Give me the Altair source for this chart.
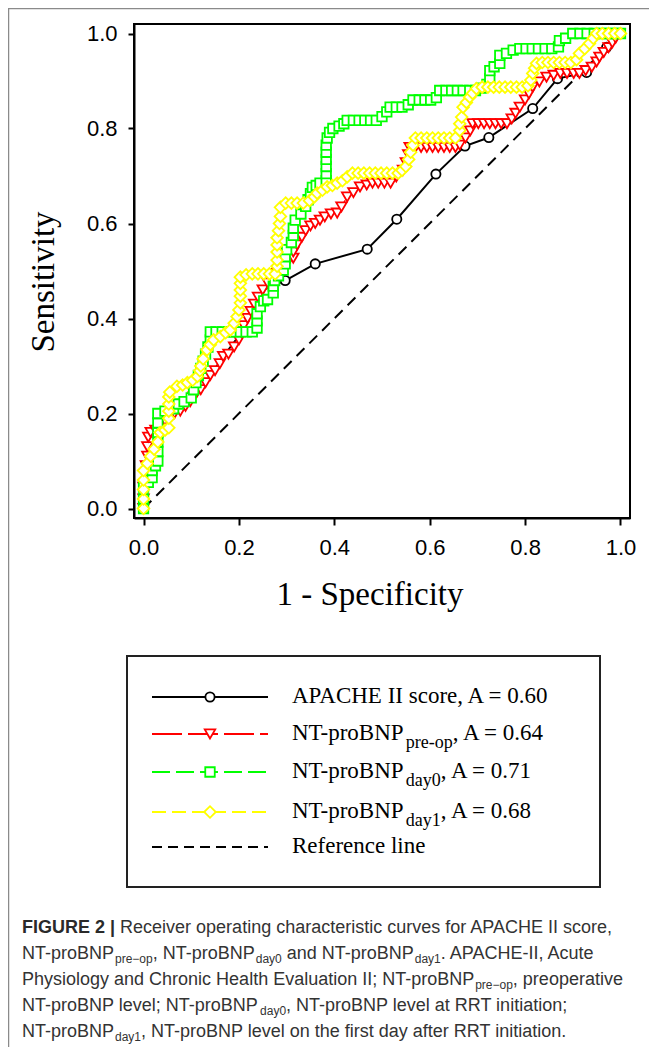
import altair as alt
import pandas as pd

# ---------------- data ----------------
tick_values = [0.0, 0.2, 0.4, 0.6, 0.8, 1.0]

apache_points = [(0.0, 0.0), (0.01, 0.15), (0.065, 0.2), (0.12, 0.25), (0.167, 0.32), (0.205, 0.37),
                 (0.25, 0.46), (0.297, 0.48), (0.36, 0.515), (0.469, 0.546), (0.531, 0.609), (0.613, 0.704),
                 (0.674, 0.763), (0.724, 0.781), (0.816, 0.842), (0.868, 0.905), (0.929, 0.918),
                 (0.971, 0.971), (1.0, 1.0)]

preop_points = [(0.0, 0.0), (0.0, 0.02), (0.0, 0.045), (0.003, 0.07), (0.005, 0.09), (0.008, 0.11), (0.008, 0.13),
                (0.01, 0.15), (0.015, 0.16), (0.025, 0.165), (0.035, 0.175), (0.045, 0.185), (0.055, 0.195),
                (0.065, 0.2), (0.077, 0.205), (0.088, 0.215), (0.098, 0.225), (0.105, 0.235), (0.112, 0.245),
                (0.12, 0.25), (0.13, 0.265), (0.14, 0.28), (0.15, 0.29), (0.16, 0.305), (0.167, 0.32),
                (0.178, 0.325), (0.19, 0.34), (0.2, 0.355), (0.205, 0.37), (0.21, 0.385), (0.218, 0.4),
                (0.225, 0.415), (0.232, 0.43), (0.24, 0.445), (0.25, 0.46), (0.26, 0.475), (0.27, 0.485),
                (0.28, 0.495), (0.29, 0.505), (0.3, 0.515), (0.314, 0.527), (0.314, 0.54), (0.322, 0.555),
                (0.332, 0.571), (0.34, 0.585), (0.35, 0.595), (0.36, 0.6), (0.37, 0.607), (0.38, 0.614),
                (0.393, 0.62), (0.406, 0.622), (0.415, 0.635), (0.427, 0.656), (0.44, 0.665), (0.454, 0.677),
                (0.468, 0.681), (0.48, 0.685), (0.492, 0.685), (0.505, 0.685), (0.518, 0.685), (0.53, 0.698),
                (0.544, 0.712), (0.55, 0.728), (0.555, 0.745), (0.558, 0.76), (0.57, 0.76), (0.582, 0.76),
                (0.594, 0.76), (0.606, 0.76), (0.618, 0.76), (0.63, 0.76), (0.642, 0.76), (0.654, 0.76),
                (0.663, 0.765), (0.675, 0.78), (0.685, 0.795), (0.69, 0.81), (0.702, 0.81), (0.714, 0.81),
                (0.726, 0.81), (0.738, 0.81), (0.75, 0.81), (0.762, 0.81), (0.772, 0.82), (0.78, 0.832),
                (0.789, 0.845), (0.8, 0.86), (0.808, 0.873), (0.816, 0.887), (0.83, 0.898), (0.845, 0.908),
                (0.86, 0.912), (0.874, 0.916), (0.888, 0.916), (0.902, 0.916), (0.914, 0.916), (0.927, 0.922),
                (0.94, 0.929), (0.95, 0.94), (0.956, 0.95), (0.965, 0.96), (0.975, 0.97), (0.983, 0.98),
                (0.99, 0.99), (0.998, 1.0)]

day0_points = [(0.0, 0.0), (0.0, 0.02), (0.0, 0.045), (0.01, 0.055), (0.018, 0.065), (0.018, 0.08), (0.025, 0.09),
               (0.03, 0.1), (0.03, 0.12), (0.03, 0.14), (0.03, 0.16), (0.03, 0.18), (0.03, 0.2), (0.045, 0.205),
               (0.063, 0.21), (0.073, 0.22), (0.085, 0.225), (0.1, 0.233), (0.105, 0.25), (0.11, 0.265),
               (0.115, 0.28), (0.12, 0.295), (0.125, 0.31), (0.13, 0.325), (0.135, 0.34), (0.14, 0.355),
               (0.14, 0.372), (0.152, 0.372), (0.165, 0.372), (0.178, 0.372), (0.19, 0.372), (0.203, 0.372),
               (0.215, 0.372), (0.228, 0.372), (0.238, 0.38), (0.238, 0.395), (0.238, 0.41), (0.245, 0.425),
               (0.252, 0.437), (0.26, 0.44), (0.272, 0.454), (0.272, 0.468), (0.275, 0.48), (0.283, 0.49),
               (0.293, 0.502), (0.297, 0.515), (0.297, 0.53), (0.3, 0.545), (0.31, 0.56), (0.314, 0.575),
               (0.314, 0.59), (0.318, 0.607), (0.33, 0.62), (0.34, 0.636), (0.345, 0.65), (0.35, 0.663),
               (0.354, 0.676), (0.362, 0.68), (0.37, 0.685), (0.383, 0.69), (0.383, 0.705), (0.383, 0.72),
               (0.383, 0.735), (0.383, 0.75), (0.383, 0.765), (0.385, 0.78), (0.39, 0.792), (0.397, 0.8),
               (0.41, 0.805), (0.42, 0.81), (0.427, 0.817), (0.44, 0.817), (0.452, 0.817), (0.464, 0.817),
               (0.476, 0.817), (0.488, 0.817), (0.5, 0.825), (0.51, 0.835), (0.517, 0.845), (0.53, 0.845),
               (0.542, 0.845), (0.555, 0.85), (0.565, 0.86), (0.578, 0.86), (0.59, 0.86), (0.602, 0.86),
               (0.614, 0.865), (0.621, 0.88), (0.634, 0.88), (0.646, 0.88), (0.658, 0.88), (0.67, 0.88),
               (0.684, 0.88), (0.696, 0.88), (0.708, 0.885), (0.72, 0.893), (0.726, 0.905), (0.726, 0.922),
               (0.735, 0.93), (0.747, 0.937), (0.747, 0.954), (0.761, 0.958), (0.775, 0.965), (0.789, 0.968),
               (0.802, 0.968), (0.815, 0.968), (0.828, 0.968), (0.842, 0.968), (0.856, 0.968), (0.87, 0.972),
               (0.872, 0.985), (0.885, 0.99), (0.9, 1.0), (0.915, 1.0), (0.93, 1.0), (0.945, 1.0), (0.96, 1.0),
               (0.975, 1.0), (0.99, 1.0), (1.0, 1.0)]

day1_points = [(0.0, 0.0), (0.0, 0.02), (0.0, 0.04), (0.0, 0.06), (0.0, 0.08), (0.008, 0.095), (0.015, 0.11),
               (0.022, 0.125), (0.03, 0.14), (0.035, 0.16), (0.045, 0.165), (0.053, 0.17), (0.053, 0.19),
               (0.053, 0.205), (0.053, 0.22), (0.053, 0.235), (0.055, 0.245), (0.07, 0.257), (0.082, 0.26),
               (0.092, 0.265), (0.103, 0.27), (0.113, 0.278), (0.118, 0.29), (0.12, 0.3), (0.125, 0.315),
               (0.133, 0.334), (0.14, 0.345), (0.147, 0.355), (0.161, 0.362), (0.172, 0.37), (0.182, 0.376),
               (0.19, 0.39), (0.196, 0.404), (0.2, 0.418), (0.203, 0.433), (0.203, 0.447), (0.203, 0.46),
               (0.203, 0.474), (0.203, 0.487), (0.215, 0.492), (0.228, 0.494), (0.24, 0.494), (0.252, 0.494),
               (0.264, 0.494), (0.276, 0.494), (0.28, 0.51), (0.28, 0.523), (0.28, 0.54), (0.28, 0.555),
               (0.28, 0.57), (0.283, 0.585), (0.285, 0.6), (0.287, 0.615), (0.287, 0.634), (0.298, 0.643),
               (0.31, 0.643), (0.322, 0.643), (0.335, 0.643), (0.348, 0.648), (0.358, 0.656), (0.364, 0.664),
               (0.375, 0.67), (0.385, 0.677), (0.396, 0.68), (0.406, 0.685), (0.417, 0.69), (0.427, 0.698),
               (0.438, 0.706), (0.45, 0.706), (0.462, 0.706), (0.474, 0.706), (0.486, 0.706), (0.498, 0.706),
               (0.51, 0.706), (0.522, 0.706), (0.534, 0.706), (0.542, 0.712), (0.55, 0.72), (0.556, 0.735),
               (0.56, 0.75), (0.565, 0.765), (0.57, 0.78), (0.582, 0.78), (0.594, 0.78), (0.606, 0.78),
               (0.618, 0.78), (0.63, 0.78), (0.642, 0.78), (0.654, 0.78), (0.663, 0.796), (0.663, 0.81),
               (0.667, 0.824), (0.67, 0.845), (0.677, 0.855), (0.684, 0.866), (0.69, 0.874), (0.698, 0.884),
               (0.71, 0.887), (0.722, 0.887), (0.734, 0.887), (0.746, 0.887), (0.758, 0.887), (0.77, 0.887),
               (0.782, 0.887), (0.794, 0.887), (0.806, 0.89), (0.812, 0.902), (0.816, 0.916), (0.82, 0.927),
               (0.824, 0.937), (0.836, 0.939), (0.848, 0.939), (0.86, 0.939), (0.872, 0.939), (0.884, 0.939),
               (0.896, 0.939), (0.908, 0.945), (0.914, 0.958), (0.925, 0.968), (0.935, 0.979), (0.943, 0.99),
               (0.95, 1.0), (0.962, 1.0), (0.975, 1.0), (0.988, 1.0), (1.0, 1.0)]

reference_points = [(0.0, 0.0), (1.0, 1.0)]

x_title = "1 - Specificity"
y_title = "Sensitivity"

legend_rows = [
    [("APACHE II score, A = 0.60", "n")],
    [("NT-proBNP", "n"), ("pre-op", "s"), (", A = 0.64", "n")],
    [("NT-proBNP", "n"), ("day0", "s"), (", A = 0.71", "n")],
    [("NT-proBNP", "n"), ("day1", "s"), (", A = 0.68", "n")],
    [("Reference line", "n")],
]

caption_lines = [
    [("FIGURE 2 |", "b"), (" Receiver operating characteristic curves for APACHE II score,", "r")],
    [("NT-proBNP", "r"), ("pre\u2212op", "s"), (", NT-proBNP", "r"), ("day0", "s"), (" and NT-proBNP", "r"),
     ("day1", "s"), (". APACHE-II, Acute", "r")],
    [("Physiology and Chronic Health Evaluation II; NT-proBNP", "r"), ("pre\u2212op", "s"), (", preoperative", "r")],
    [("NT-proBNP level; NT-proBNP", "r"), ("day0", "s"), (", NT-proBNP level at RRT initiation;", "r")],
    [("NT-proBNP", "r"), ("day1", "s"), (", NT-proBNP level on the first day after RRT initiation.", "r")],
]

# ---------------- layout (pixels, relative to the plot area) ----------------
W, H = 496, 494
PAD = {"left": 126, "top": 16, "right": 19, "bottom": 529}

# font advance widths (per 1000 em) used to place subscripts
ARIAL = {' ': 278, ',': 278, '-': 333, '.': 278, ';': 278, ':': 278, '\u2212': 584, '|': 260,
         'A': 667, 'B': 667, 'C': 722, 'D': 722, 'E': 667, 'F': 611, 'G': 778, 'H': 722, 'I': 278, 'J': 500,
         'K': 667, 'L': 556, 'M': 833, 'N': 722, 'O': 778, 'P': 667, 'Q': 778, 'R': 722, 'S': 667, 'T': 611,
         'U': 722, 'V': 667, 'W': 944, 'X': 667, 'Y': 667, 'Z': 611,
         'a': 556, 'b': 556, 'c': 500, 'd': 556, 'e': 556, 'f': 278, 'g': 556, 'h': 556, 'i': 222, 'j': 222,
         'k': 500, 'l': 222, 'm': 833, 'n': 556, 'o': 556, 'p': 556, 'q': 556, 'r': 333, 's': 500, 't': 278,
         'u': 556, 'v': 500, 'w': 722, 'x': 500, 'y': 500, 'z': 500}
for _d in "0123456789":
    ARIAL[_d] = 556
ARIAL_BOLD = dict(ARIAL)
ARIAL_BOLD.update({'|': 280, 'R': 722, 'U': 722, 'G': 778, 'F': 611, 'I': 278, 'E': 667})
TIMES = {' ': 250, ',': 250, '-': 333, '.': 250, '=': 564,
         'A': 722, 'B': 667, 'C': 667, 'E': 611, 'H': 722, 'I': 333, 'N': 722, 'P': 556, 'R': 667, 'T': 611,
         'a': 444, 'c': 444, 'd': 500, 'e': 444, 'f': 333, 'i': 278, 'l': 278, 'n': 500, 'o': 500, 'p': 500,
         'r': 333, 's': 389, 'y': 500}
for _d in "0123456789":
    TIMES[_d] = 500


def tw(s, table, fs):
    return sum(table.get(ch, 500) for ch in s) * fs / 1000.0


def layout(lines, x0, baselines, styles):
    recs = {k: [] for k in styles}
    for segs, base in zip(lines, baselines):
        x = x0
        for s, k in segs:
            table, fs, dy = styles[k]
            stripped = s.lstrip(' ')
            lead = tw(s[:len(s) - len(stripped)], table, fs)
            recs[k].append({"t": stripped, "px": x + lead, "py": base + dy})
            x += tw(s, table, fs)
    return {k: pd.DataFrame(v) for k, v in recs.items() if v}


xscale = alt.Scale(domain=[-0.02, 1.02], nice=False, zero=False)
yscale = alt.Scale(domain=[-0.02, 1.02], nice=False, zero=False)
xaxis = alt.Axis(values=tick_values, format=".1f", title=None, tickSize=7, labelPadding=12, grid=False,
                 labelFlush=False, labelOverlap=False)
yaxis = alt.Axis(values=tick_values, format=".1f", title=None, tickSize=6, labelPadding=11, grid=False,
                 labelFlush=False, labelOverlap=False)


def pts_df(points):
    return pd.DataFrame({"x": [p[0] for p in points], "y": [p[1] for p in points],
                         "i": list(range(len(points)))})


def series(points, color, dash, shape, size, lw, marker_from=None):
    base = alt.Chart(pts_df(points)).encode(
        x=alt.X("x:Q", scale=xscale, axis=xaxis),
        y=alt.Y("y:Q", scale=yscale, axis=yaxis),
        order="i:Q")
    if dash:
        line = base.mark_line(color=color, strokeWidth=lw, strokeDash=dash)
    else:
        line = base.mark_line(color=color, strokeWidth=lw)
    out = [line]
    if shape:
        pb = base
        if marker_from is not None:
            pb = base.transform_filter(alt.datum.i >= marker_from)
        out.append(pb.mark_point(shape=shape, size=size, filled=True, fill="white", stroke=color,
                                 strokeWidth=1.8, opacity=1))
    return out


def pix(df):
    return alt.Chart(df).encode(x=alt.X("px:Q", scale=None), y=alt.Y("py:Q", scale=None))


layers = []

# figure frame (gray) at the top and left
frame = pd.DataFrame({"px": [-125.5, -126], "px2": [-125.5, 515], "py": [-16, -15.5], "py2": [1023, -15.5]})
layers.append(alt.Chart(frame).mark_rule(color="#8a8a8a", strokeWidth=1.5).encode(
    x=alt.X("px:Q", scale=None), x2="px2:Q", y=alt.Y("py:Q", scale=None), y2="py2:Q"))

# legend box
box = pd.DataFrame({"px": [-7], "px2": [466], "py": [632], "py2": [863]})
layers.append(alt.Chart(box).mark_rect(fill="white", fillOpacity=0, stroke="#222222", strokeWidth=2).encode(
    x=alt.X("px:Q", scale=None), x2="px2:Q", y=alt.Y("py:Q", scale=None), y2="py2:Q"))

# curves (the APACHE markers below the coloured curves are hidden there, so only the visible ones are drawn)
layers += series(reference_points, "black", [11, 7], None, 0, 2)
layers += series(apache_points, "black", None, "circle", 85, 2, marker_from=7)
layers += series(preop_points, "#ff0000", [30, 6], "triangle-down", 110, 1.5)
layers += series(day0_points, "#00ff00", [18, 6], "square", 90, 1.5)
layers += series(day1_points, "#ffff00", [14, 6], "diamond", 135, 1.5)

# legend samples
legend_y = [673, 710, 748, 788, 823]
legend_styles = [("black", None, "circle", 85), ("#ff0000", [30, 6], "triangle-down", 110),
                 ("#00ff00", [18, 6], "square", 90), ("#ffff00", [14, 6], "diamond", 135),
                 ("black", [10, 6], None, 0)]
for yy, (c, dash, shape, size) in zip(legend_y, legend_styles):
    ld = pd.DataFrame({"px": [18, 134], "py": [yy, yy], "i": [0, 1]})
    kw = dict(color=c, strokeWidth=2)
    if dash:
        kw["strokeDash"] = dash
    layers.append(pix(ld).mark_line(**kw))
    if shape:
        sd = pd.DataFrame({"px": [76], "py": [yy]})
        layers.append(pix(sd).mark_point(shape=shape, size=size, filled=True, fill="white", stroke=c,
                                         strokeWidth=1.8, opacity=1))

# legend text
leg = layout(legend_rows, 158, [y + 6 for y in legend_y],
             {"n": (TIMES, 23, 0), "s": (TIMES, 18, 8)})
layers.append(pix(leg["n"]).mark_text(align="left", baseline="alphabetic", font="Liberation Serif",
                                      fontSize=23, color="black").encode(text="t:N"))
layers.append(pix(leg["s"]).mark_text(align="left", baseline="alphabetic", font="Liberation Serif",
                                      fontSize=18, color="black").encode(text="t:N"))

# caption
cap = layout(caption_lines, -112, [909, 935, 961, 987, 1013],
             {"b": (ARIAL_BOLD, 18, 0), "r": (ARIAL, 18, 0), "s": (ARIAL, 12, 4)})
layers.append(pix(cap["b"]).mark_text(align="left", baseline="alphabetic", font="Liberation Sans",
                                      fontSize=18, fontWeight="bold", color="#2a2a2a").encode(text="t:N"))
layers.append(pix(cap["r"]).mark_text(align="left", baseline="alphabetic", font="Liberation Sans",
                                      fontSize=18, color="#333333").encode(text="t:N"))
layers.append(pix(cap["s"]).mark_text(align="left", baseline="alphabetic", font="Liberation Sans",
                                      fontSize=12, color="#333333").encode(text="t:N"))

# axis titles
tt = pd.DataFrame({"px": [236], "py": [571], "t": [x_title]})
layers.append(pix(tt).mark_text(align="center", baseline="middle", font="Liberation Serif", fontSize=33,
                                color="black").encode(text="t:N"))
yt = pd.DataFrame({"px": [-90], "py": [258], "t": [y_title]})
layers.append(pix(yt).mark_text(align="center", baseline="middle", font="Liberation Serif", fontSize=33,
                                angle=270, color="black").encode(text="t:N"))

chart = alt.layer(*layers).properties(
    width=W, height=H,
    autosize=alt.AutoSizeParams(type="none"),
    padding=PAD,
).configure_view(stroke="black", strokeWidth=2).configure_axis(
    labelFont="Liberation Sans", labelFontSize=22, labelColor="black",
    tickColor="black", tickWidth=2, domainColor="black", domainWidth=2,
)

chart.save("out.html", embed_options={"renderer": "svg", "actions": False})
